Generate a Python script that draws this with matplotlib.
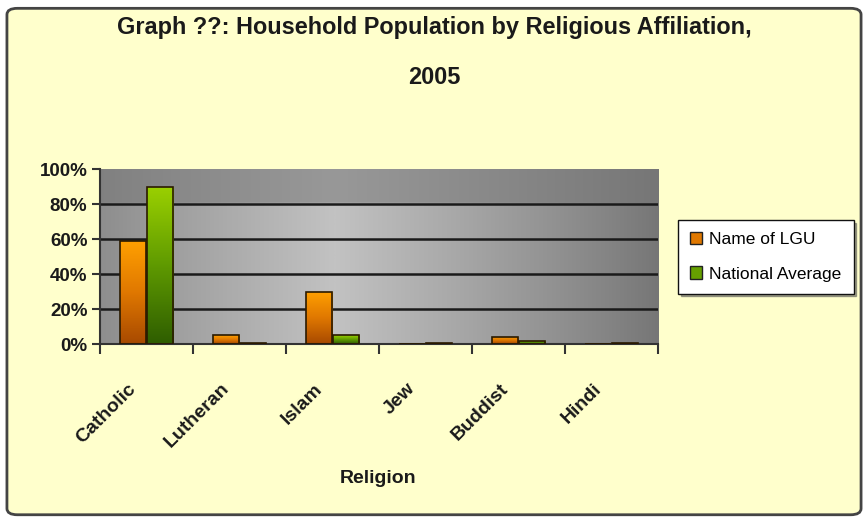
import numpy as np
import matplotlib.pyplot as plt
import matplotlib.transforms as mtransforms
from matplotlib.patches import FancyBboxPatch, Patch
from matplotlib.colors import LinearSegmentedColormap
from matplotlib.ticker import FixedLocator, PercentFormatter

plt.rcParams['font.family'] = ['Liberation Sans', 'DejaVu Sans']

# data (share of household population)
religions = ['Catholic', 'Lutheran', 'Islam', 'Jew', 'Buddist', 'Hindi']
lgu = [0.59, 0.05, 0.30, 0.0, 0.04, 0.0]
national = [0.90, 0.005, 0.05, 0.005, 0.02, 0.005]
series_names = ['Name of LGU', 'National Average']
yticks = [0, 0.2, 0.4, 0.6, 0.8, 1.0]

fig = plt.figure(figsize=(8.68, 5.21), dpi=100)
fig.patch.set_facecolor('white')

# rounded yellow chart background
bg = FancyBboxPatch((0.008, 0.012), 0.984, 0.972, boxstyle='round,pad=0,rounding_size=0.012',
                    transform=fig.transFigure, facecolor='#ffffcc', edgecolor='#444444',
                    linewidth=2, zorder=-10)
fig.patches.append(bg)

ax = fig.add_axes([0.1152, 0.3397, 0.6429, 0.3359])
ax.set_xlim(0, len(religions))
ax.set_ylim(0, 1)

# gray gradient plot area, lighter in the middle, darker top band
xs = np.linspace(0, 1, 300)
shade = 1 - np.abs(xs - 0.42) / 0.58
shade = np.clip(shade, 0, 1) ** 0.9
grad = np.tile(shade, (50, 1))
grad[:10] *= 0.45
gray_cmap = LinearSegmentedColormap.from_list('g', ['#767676', '#c2c2c2'])
ax.imshow(grad, cmap=gray_cmap, vmin=0, vmax=1, extent=[0, len(religions), 0, 1],
          aspect='auto', origin='upper', zorder=0)

for y in yticks[1:-1]:
    ax.axhline(y, color='#1a1a1a', linewidth=1.8, zorder=1)

x = np.arange(len(religions)) + 0.5
w = 0.28
orange_cmap = LinearSegmentedColormap.from_list('o', ['#a84a00', '#e07800', '#ffa000'])
green_cmap = LinearSegmentedColormap.from_list('gr', ['#2f5e00', '#5f9a00', '#9ad000'])

def gradient_bars(xpos, vals, cmap):
    bars = ax.bar(xpos, vals, w, facecolor='none', edgecolor='#2a1a00',
                  linewidth=1.2, zorder=3)
    for b in bars:
        h = b.get_height()
        if h <= 0:
            continue
        img = ax.imshow(np.linspace(1, 0, 64).reshape(-1, 1), cmap=cmap, vmin=0, vmax=1,
                        extent=[b.get_x(), b.get_x() + b.get_width(), 0, h],
                        aspect='auto', origin='upper', zorder=2)
        img.set_clip_path(b)
    return bars

gradient_bars(x - w / 2 - 0.01, lgu, orange_cmap)
gradient_bars(x + w / 2 + 0.01, national, green_cmap)

ax.set_xlim(0, len(religions))
ax.set_ylim(0, 1)

for s in ['top', 'right']:
    ax.spines[s].set_visible(False)
ax.spines['left'].set_color('#333333')
ax.spines['bottom'].set_color('#333333')
ax.spines['left'].set_linewidth(1.5)
ax.spines['bottom'].set_linewidth(1.5)

ax.set_yticks(yticks)
ax.yaxis.set_major_formatter(PercentFormatter(1.0, decimals=0))
ax.tick_params(axis='y', length=6, width=1.5, color='#333333', labelsize=13.5, pad=3)
for t in ax.get_yticklabels():
    t.set_fontweight('bold')
    t.set_color('#1a1a1a')

ax.xaxis.set_major_locator(FixedLocator(np.arange(len(religions) + 1)))
ax.xaxis.set_minor_locator(FixedLocator(x))
ax.set_xticklabels([], minor=False)
ax.set_xticklabels(religions, minor=True, rotation=45, ha='right', va='top',
                   fontsize=14, fontweight='bold', color='#1a1a1a')
ax.tick_params(axis='x', which='major', length=7, width=1.5, color='#333333')
ax.tick_params(axis='x', which='minor', length=0, pad=26)
shift = mtransforms.ScaledTranslation(-0.19, 0, fig.dpi_scale_trans)
for t in ax.get_xticklabels(minor=True):
    t.set_rotation_mode('anchor')
    t.set_transform(t.get_transform() + shift)

fig.text(0.5, 0.947, 'Graph ??: Household Population by Religious Affiliation,',
         ha='center', va='center', fontsize=16.9, fontweight='bold', color='#1a1a1a')
fig.text(0.5, 0.852, '2005', ha='center', va='center', fontsize=16.9,
         fontweight='bold', color='#1a1a1a')
fig.text(0.4355, 0.081, 'Religion', ha='center', va='center', fontsize=14,
         fontweight='bold', color='#1a1a1a')

handles = [Patch(facecolor='#e07800', edgecolor='#222222', label=series_names[0]),
           Patch(facecolor='#66a000', edgecolor='#222222', label=series_names[1])]
leg = fig.legend(handles=handles, loc='center left', bbox_to_anchor=(0.781, 0.507),
                 fontsize=12.5, frameon=True, fancybox=False, shadow=True,
                 handlelength=0.7, handleheight=0.7, handletextpad=0.4,
                 borderpad=0.7, labelspacing=1.1, borderaxespad=0)
leg.get_frame().set_edgecolor('#111111')
leg.get_frame().set_linewidth(1.0)

fig.savefig('out.png', dpi=100, facecolor=fig.get_facecolor())
